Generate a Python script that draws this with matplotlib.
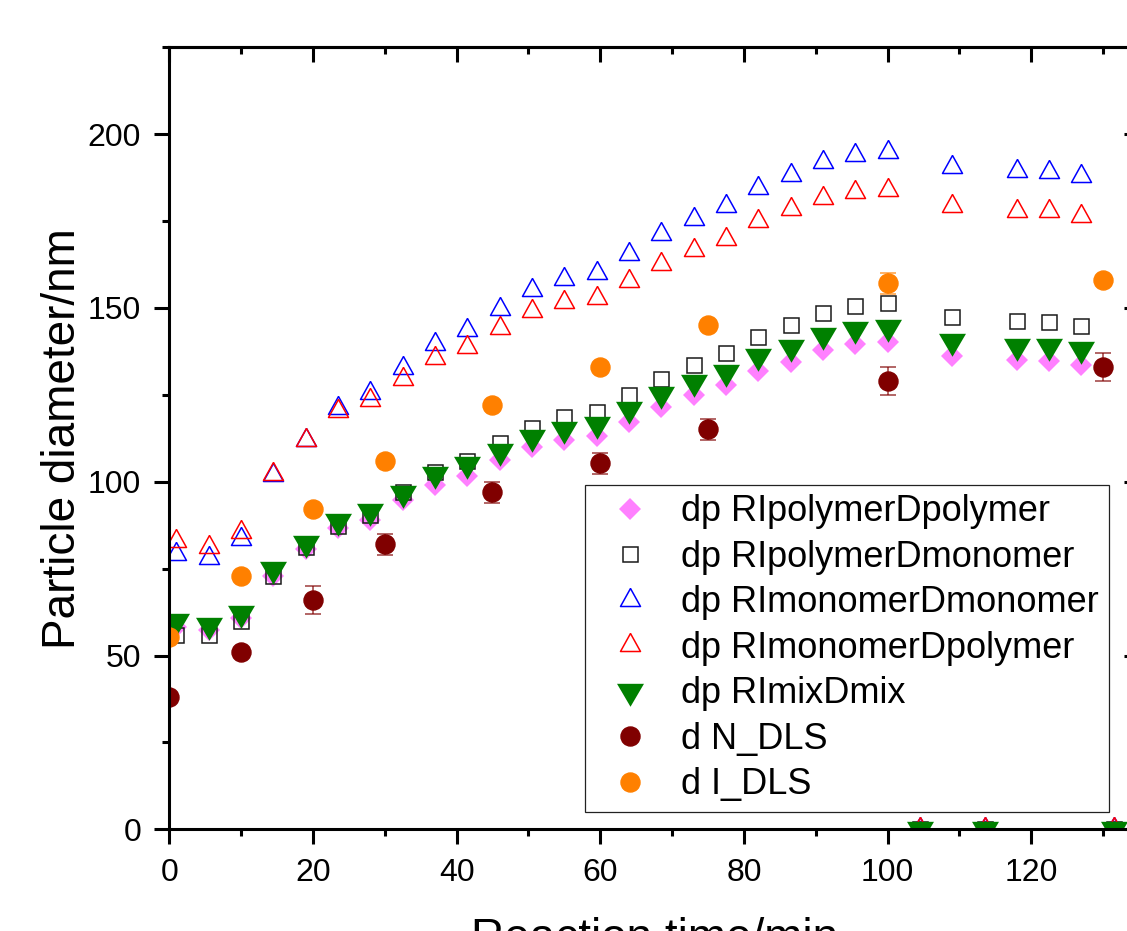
import matplotlib
matplotlib.use('Agg')
import matplotlib.pyplot as plt
from matplotlib.ticker import MultipleLocator

plt.rcParams['font.family'] = ['Liberation Sans', 'DejaVu Sans']

# ---------------- data ----------------
t_model = [1, 5.5, 10, 14.5, 19, 23.5, 28, 32.5, 37, 41.5, 46, 50.5, 55, 59.5, 64,
           68.5, 73, 77.5, 82, 86.5, 91, 95.5, 100, 104.5, 109, 113.5, 118, 122.5, 127, 131.5]

dp_RIpolymerDpolymer = [58.3, 57.3, 60.7, 72.9, 80.6, 86.6, 89.0, 94.8, 99.0, 101.6, 106.2, 110.1,
                        112.0, 113.3, 117.1, 121.4, 125.0, 127.7, 132.0, 134.6, 137.8, 139.7, 140.1,
                        0, 136.3, 0, 135.0, 134.8, 133.6, 0]
dp_RIpolymerDmonomer = [56.0, 56.0, 60.0, 72.8, 81.1, 87.2, 90.5, 97.0, 102.7, 106.0, 111.1, 115.6,
                        118.5, 120.2, 124.9, 129.7, 133.6, 137.0, 141.7, 145.0, 148.6, 150.6, 151.5,
                        0, 147.4, 0, 146.2, 146.0, 144.8, 0]
dp_RImonomerDmonomer = [79.1, 78.1, 83.5, 102.0, 112.1, 121.1, 125.6, 132.8, 139.7, 143.6, 149.7, 155.1,
                        158.3, 160.2, 165.6, 171.2, 175.6, 179.2, 184.6, 188.3, 191.9, 194.1, 194.8,
                        0, 190.6, 0, 189.3, 189.1, 187.9, 0]
dp_RImonomerDpolymer = [83.0, 81.1, 85.5, 102.2, 112.1, 120.4, 123.5, 129.6, 135.7, 138.8, 144.3, 149.1,
                        151.7, 153.0, 157.8, 162.7, 166.8, 169.9, 175.0, 178.4, 181.7, 183.4, 183.9,
                        0, 179.4, 0, 178.0, 177.9, 176.5, 0]
dp_RImixDmix = [59.8, 58.7, 62.3, 74.9, 82.5, 88.8, 91.7, 96.8, 102.1, 105.1, 108.9, 113.0,
                115.3, 116.7, 120.8, 125.2, 128.7, 131.6, 136.1, 138.9, 142.1, 143.9, 144.4,
                0, 140.6, 0, 139.2, 139.1, 138.1, 0]

t_dls = [0, 10, 20, 30, 45, 60, 75, 100, 130]
d_N_DLS = [38.0, 51.0, 66.0, 82.0, 97.0, 105.3, 115.1, 129.1, 133.0]
d_N_DLS_err = [1, 1, 4, 3, 3, 3, 3, 4, 4]
d_I_DLS = [55.3, 73.0, 92.1, 106.0, 122.1, 133.0, 145.1, 157.1, 158.1]
d_I_DLS_err = [1, 1, 1, 1, 1, 1, 1, 3, 1]

labels = ['dp RIpolymerDpolymer', 'dp RIpolymerDmonomer', 'dp RImonomerDmonomer',
          'dp RImonomerDpolymer', 'dp RImixDmix', 'd N_DLS', 'd I_DLS']

# ---------------- figure ----------------
fig = plt.figure(figsize=(11.27, 9.31), dpi=100)
ax = fig.add_axes([0.1502, 0.1092, 0.8604, 0.8400])

up_tri = [(0, 12), (-10, -6), (10, -6), (0, 12)]
down_tri = [(0, -15.3), (-13.5, 7.7), (13.5, 7.7), (0, -15.3)]

h1, = ax.plot(t_model, dp_RIpolymerDpolymer, ls='none', marker='D', ms=11.7,
              mfc='#FF80FF', mec='#FF80FF', mew=0)
h2, = ax.plot(t_model, dp_RIpolymerDmonomer, ls='none', marker='s', ms=10.8,
              mfc='none', mec='#1a1a1a', mew=1.1)
h3, = ax.plot(t_model, dp_RImonomerDmonomer, ls='none', marker=up_tri, ms=17.3,
              mfc='none', mec='#0000FF', mew=1.1)
h4, = ax.plot(t_model, dp_RImonomerDpolymer, ls='none', marker=up_tri, ms=17.3,
              mfc='none', mec='#FF0000', mew=1.1)
h5, = ax.plot(t_model, dp_RImixDmix, ls='none', marker=down_tri, ms=22.0,
              mfc='#008000', mec='#008000', mew=0)
e6 = ax.errorbar(t_dls, d_N_DLS, yerr=d_N_DLS_err, fmt='o', ms=13.7, color='#800000',
                 mec='#800000', ecolor=(0.5, 0.0, 0.0, 0.65), elinewidth=1.3, capsize=6, capthick=1.3)
e7 = ax.errorbar(t_dls, d_I_DLS, yerr=d_I_DLS_err, fmt='o', ms=13.7, color='#FF8000',
                 mec='#FF8000', ecolor=(1.0, 0.5, 0.0, 0.65), elinewidth=1.3, capsize=6, capthick=1.3)

ax.set_xlim(0, 135)
ax.set_ylim(0, 225)

ax.xaxis.set_major_locator(MultipleLocator(20))
ax.xaxis.set_minor_locator(MultipleLocator(10))
ax.yaxis.set_major_locator(MultipleLocator(50))
ax.yaxis.set_minor_locator(MultipleLocator(25))

ax.tick_params(which='major', direction='out', length=10.8, width=2.2, labelsize=23, pad=9.5,
               top=False, right=False, colors='black')
ax.tick_params(which='minor', direction='out', length=5.0, width=2.2, top=False, right=False)

for s in ax.spines.values():
    s.set_linewidth(2.2)

secx = ax.secondary_xaxis('top')
secx.xaxis.set_major_locator(MultipleLocator(20))
secx.xaxis.set_minor_locator(MultipleLocator(10))
secx.tick_params(which='major', direction='in', length=10.8, width=2.2, labeltop=False)
secx.tick_params(which='minor', direction='in', length=5.0, width=2.2)
secx.spines['top'].set_linewidth(2.2)

secy = ax.secondary_yaxis('right')
secy.yaxis.set_major_locator(MultipleLocator(50))
secy.yaxis.set_minor_locator(MultipleLocator(25))
secy.tick_params(which='major', direction='in', length=10.8, width=2.2, labelright=False)
secy.tick_params(which='minor', direction='in', length=5.0, width=2.2)
secy.spines['right'].set_linewidth(2.2)

ax.set_xlabel('Reaction time/min', fontsize=33)
ax.set_ylabel('Particle diameter/nm', fontsize=33)
ax.xaxis.set_label_coords(0.5, -0.112)
ax.yaxis.set_label_coords(-0.0872, 0.5)

leg = ax.legend([h1, h2, h3, h4, h5, e6[0], e7[0]], labels,
                loc='upper left', bbox_to_anchor=(0.4287, 0.4403), borderaxespad=0,
                fontsize=26, frameon=True, fancybox=False, framealpha=1,
                edgecolor='#222222', labelspacing=0.29, borderpad=0.26,
                handlelength=2.0, handletextpad=0.41, numpoints=1)
leg.get_frame().set_linewidth(0.9)

fig.savefig('out.png', dpi=100)
